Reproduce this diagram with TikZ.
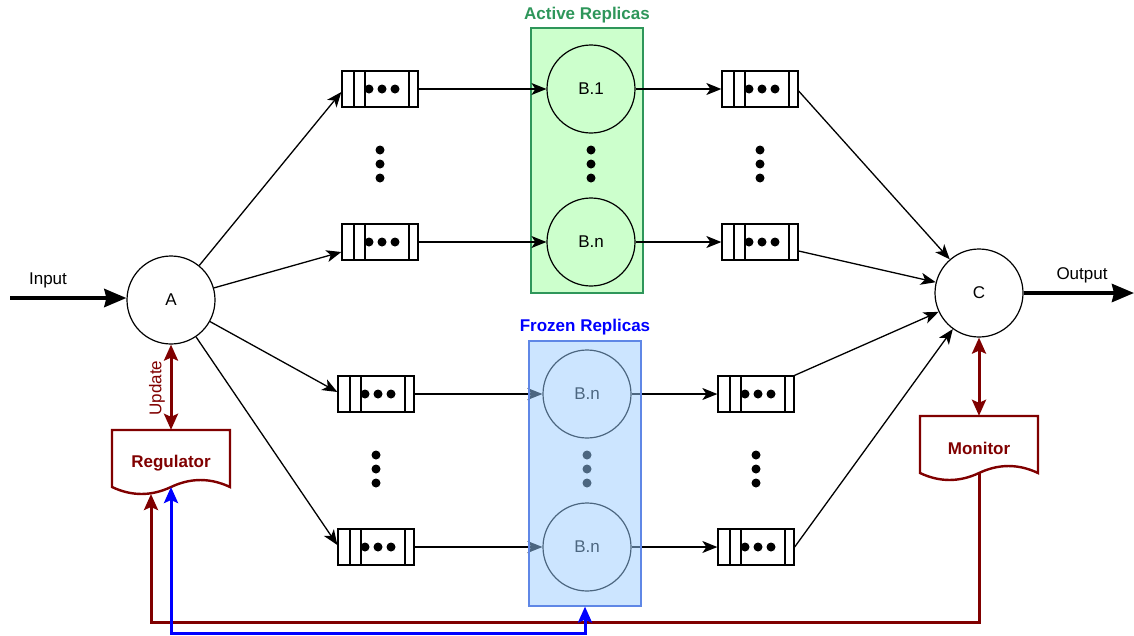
\documentclass[tikz,border=0pt]{standalone}
\usepackage{fontspec}
\setmainfont{Liberation Sans}
\usetikzlibrary{arrows.meta,calc}
\definecolor{dred}{RGB}{128,0,0}
\definecolor{agreen}{RGB}{46,150,90}
\definecolor{agfill}{RGB}{204,255,204}
\definecolor{fbfill}{RGB}{153,204,255}
\definecolor{fbline}{RGB}{95,135,230}
\begin{document}
\begin{tikzpicture}[x=1pt,y=-1pt,font=\fontsize{17}{20}\selectfont,
  circ/.style={circle,draw,line width=1.2pt,minimum size=88pt,inner sep=0pt},
  queue/.style={draw,line width=1.3pt,minimum width=76pt,minimum height=36pt,inner sep=0pt,
    path picture={
      \foreach \dx in {12,23,67}
        \draw[line width=1.3pt] ([xshift=\dx pt]path picture bounding box.north west) -- ([xshift=\dx pt]path picture bounding box.south west);
      \foreach \dx in {27,40,53}
        \fill ([xshift=\dx pt]path picture bounding box.west) circle (4.5pt);
    }},
  arr/.style={line width=1.3pt,-{Stealth[length=15pt,width=12pt,inset=4pt]}},
  bigarr/.style={line width=4pt,-{Stealth[length=22pt,width=18pt,inset=2pt]}},
  redboth/.style={dred,line width=3pt,{Stealth[length=16pt,width=14pt,inset=3pt]}-{Stealth[length=16pt,width=14pt,inset=3pt]}},
  redarr/.style={dred,line width=3pt},
  docbox/.style={minimum width=118pt,inner sep=0pt,text=dred,font=\fontsize{17}{20}\selectfont\bfseries},
  replbox/.style={line width=1.2pt,minimum width=112pt,minimum height=265pt,inner sep=0pt},
]
\useasboundingbox (0,0) rectangle (1134,635);

% active replicas box
\node[replbox,draw=agreen,fill=agfill] (act) at (587,160.5) {};
\node[text=agreen,font=\fontsize{17}{20}\selectfont\bfseries] (actT) at (587,15) {Active Replicas};

% main nodes
\node[circ] (A) at (171,300) {A};
\node[circ] (C) at (979,293) {C};
\node[circ] (B1) at (591,89) {B.1};
\node[circ] (Bn) at (591,242) {B.n};
\node[circ] (F1) at (587,394) {B.n};
\node[circ] (F2) at (587,547) {B.n};

% queues
\node[queue] (q1) at (380,89) {};
\node[queue] (q2) at (380,242) {};
\node[queue] (q3) at (376,394) {};
\node[queue] (q4) at (376,547) {};
\node[queue] (r1) at (760,89) {};
\node[queue] (r2) at (760,242) {};
\node[queue] (r3) at (756,394) {};
\node[queue] (r4) at (756,547) {};

% vertical ellipsis dots
\foreach \x/\y in {380/150,760/150,591/150,376/455,756/455,587/455}{
  \fill (\x,\y) circle (4.5pt);
  \fill (\x,\y+14) circle (4.5pt);
  \fill (\x,\y+28) circle (4.5pt);
}

% arrows from A
\draw[arr] (A) -- ([yshift=-3pt]q1.west);
\draw[arr] (A) -- ([yshift=-10pt]q2.west);
\draw[arr] (A) -- ([yshift=2pt]q3.west);
\draw[arr] (A) -- ([yshift=2pt]q4.west);

% queues to replicas
\draw[arr] (q1) -- (B1);
\draw[arr] (q2) -- (Bn);
\draw[arr] (q3) -- (F1);
\draw[arr] (q4) -- (F2);

% replicas to queues
\draw[arr] (B1) -- (r1);
\draw[arr] (Bn) -- (r2);
\draw[arr] (F1) -- (r3);
\draw[arr] (F2) -- (r4);

% queues to C
\draw[arr] ([yshift=-2pt]r1.east) -- (C.131);
\draw[arr] ([yshift=-9pt]r2.east) -- (C.166);
\draw[arr] (r3.north east) -- (C.205);
\draw[arr] (r4.east) -- (C.234);

% input / output
\coordinate (in0) at (10,298);
\draw[bigarr] (in0) -- (A.west |- in0);
\node (inL) at (48,280) {Input};
\coordinate (out0) at (1134,293);
\draw[bigarr] (C.east) -- (out0);
\node (outL) at (1082,275) {Output};

% frozen replicas box (translucent overlay)
\node[replbox,fill=fbfill,fill opacity=0.5,draw=fbline,draw opacity=1] (frz) at (585,473.5) {};
\node[text=blue,font=\fontsize{17}{20}\selectfont\bfseries] (frzT) at (585,327) {Frozen Replicas};

% regulator
\node[docbox,minimum height=66pt] (reg) at (171,463) {Regulator};
\draw[dred,line width=2.4pt] (112,487) -- (112,430) -- (230,430) -- (230,487)
  .. controls (210.3,477.7) and (190.7,477.7) .. (171,487)
  .. controls (151.3,496.3) and (131.7,496.3) .. (112,487) -- cycle;

% monitor
\node[docbox,minimum height=65pt] (mon) at (979,448.5) {Monitor};
\draw[dred,line width=2.4pt] (920,473) -- (920,416) -- (1038,416) -- (1038,473)
  .. controls (1018.3,463.7) and (998.7,463.7) .. (979,473)
  .. controls (959.3,482.3) and (939.7,482.3) .. (920,473) -- cycle;

% update link
\draw[redboth] (A.south) -- (reg.north);
\node[text=dred,rotate=90] (upd) at (157,388) {Update};
\draw[redboth] (C.south) -- (mon.north);

% feedback lines
\coordinate (monB) at (979,473);
\coordinate (regB1) at (151,494);
\coordinate (regB2) at (171,487);
\draw[redarr,-{Stealth[length=16pt,width=14pt,inset=3pt]}] (monB) -- ++(0,149) -| (regB1);
\draw[blue,line width=3pt,{Stealth[length=16pt,width=14pt,inset=3pt]}-{Stealth[length=16pt,width=14pt,inset=3pt]}] (regB2) -- ++(0,146) -| (frz.south);
\end{tikzpicture}
\end{document}
